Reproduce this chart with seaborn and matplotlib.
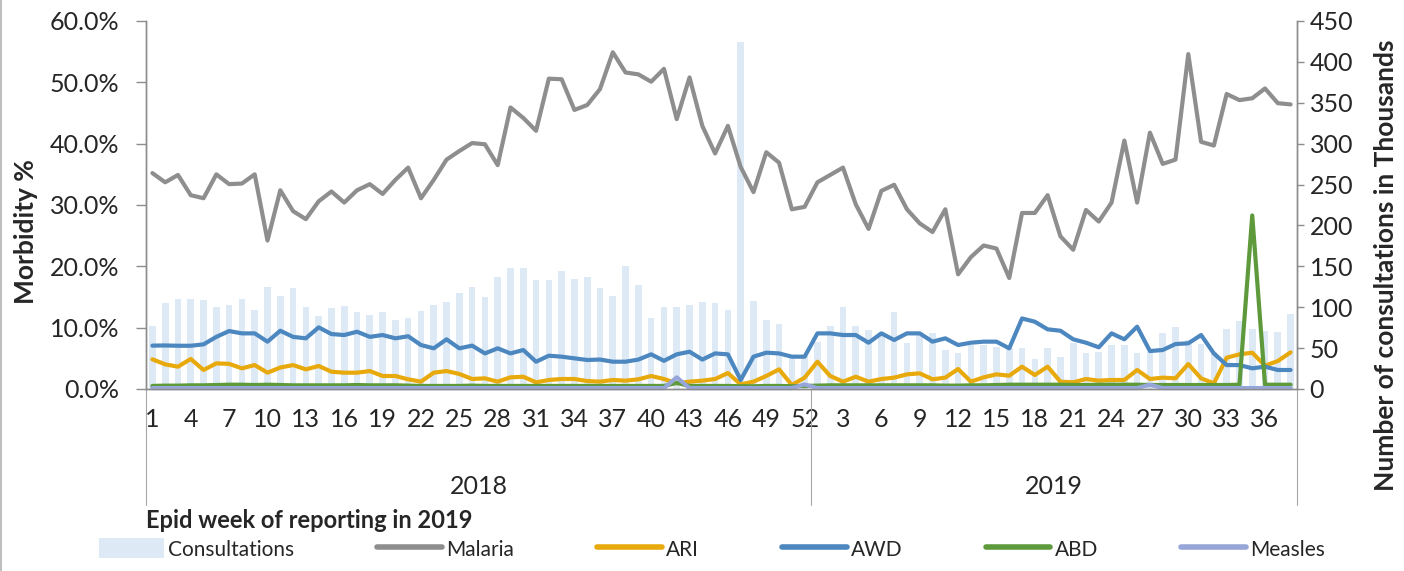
import matplotlib
matplotlib.use("Agg")
import matplotlib.pyplot as plt
from matplotlib.lines import Line2D
from matplotlib.patches import Patch
from matplotlib.ticker import FuncFormatter
import seaborn as sns
import numpy as np

# ======= DATA ========= #
weeks_2018 = list(range(1, 53))
weeks_2019 = list(range(1, 39))
years = ["2018", "2019"]

# consultations in thousands (right axis)
consultations = [
    77, 104.8, 109.7, 109.7, 108.8, 99.9, 102.7, 109.7, 96.6, 125.1,
    114.1, 123.1, 99.9, 89.3, 98.7, 101.9, 93.8, 90.1, 94.5, 84.4,
    87.2, 95.8, 102.7, 106.8, 117, 125.1, 112.1, 137.3, 147.6, 148.3,
    133.3, 133.3, 144.3, 134.5, 137.3, 123.1, 113.7, 150.4, 127.2, 86.4,
    100.6, 99.9, 102.7, 106.8, 105.6, 96.6, 424, 107.6, 84.4, 79.5,
    38, 40,
    57.9, 77, 99.9, 77, 72.1, 70.1, 94.6, 55.8, 68.1, 68.1,
    47.7, 44.4, 53.8, 53.8, 51.8, 49.7, 49.7, 36.3, 49.7, 39.5,
    55.8, 44.4, 45.5, 53.8, 53.8, 43.6, 45, 68.1, 75.4, 60,
    55, 45, 73, 83.5, 73, 71.3, 70, 91.7,
]

# morbidity % (left axis)
malaria = [
    35.2, 33.7, 34.9, 31.6, 31.1, 35.0, 33.4, 33.5, 35.0, 24.2,
    32.4, 29.0, 27.7, 30.6, 32.2, 30.4, 32.4, 33.4, 31.8, 34.1,
    36.1, 31.1, 34.1, 37.4, 38.8, 40.1, 39.9, 36.5, 45.9, 44.2,
    42.1, 50.6, 50.5, 45.5, 46.3, 48.9, 54.9, 51.6, 51.3, 50.1,
    52.2, 44.0, 50.8, 42.9, 38.4, 42.9, 36.2, 32.1, 38.6, 36.9,
    29.3, 29.7,
    33.7, 34.9, 36.1, 30.1, 26.1, 32.3, 33.3, 29.3, 27.0, 25.6,
    29.3, 18.7, 21.5, 23.4, 22.9, 18.1, 28.7, 28.7, 31.6, 24.9,
    22.7, 29.2, 27.3, 30.4, 40.5, 30.4, 41.8, 36.7, 37.4, 54.6,
    40.3, 39.7, 48.1, 47.1, 47.4, 49.0, 46.6, 46.4,
]

ari = [
    4.84, 4.02, 3.64, 4.9, 3.1, 4.18, 4.1, 3.37, 3.9, 2.66,
    3.5, 3.9, 3.2, 3.75, 2.82, 2.66, 2.66, 2.93, 2.12, 2.12,
    1.58, 1.2, 2.66, 2.93, 2.45, 1.63, 1.74, 1.2, 1.9, 2.0,
    1.09, 1.47, 1.63, 1.63, 1.3, 1.2, 1.47, 1.36, 1.58, 2.12,
    1.63, 0.92, 1.2, 1.36, 1.63, 2.6, 0.76, 1.2, 2.12, 3.2,
    0.65, 1.85,
    4.45, 2.12, 1.2, 2.0, 1.2, 1.63, 1.85, 2.39, 2.55, 1.58,
    1.85, 3.26, 1.2, 1.9, 2.39, 2.17, 3.64, 2.28, 3.64, 1.2,
    1.09, 1.63, 1.36, 1.47, 1.47, 3.1, 1.63, 1.85, 1.74, 4.07,
    1.74, 0.92, 5.1, 5.65, 5.92, 3.8, 4.56, 5.98,
]

awd = [
    7.07, 7.1, 7.05, 7.05, 7.28, 8.5, 9.45, 9.07, 9.07, 7.72,
    9.5, 8.5, 8.26, 10.05, 8.96, 8.8, 9.34, 8.5, 8.8, 8.26,
    8.6, 7.17, 6.63, 8.1, 6.63, 7.07, 5.8, 6.63, 5.8, 6.36,
    4.45, 5.43, 5.27, 5.0, 4.73, 4.8, 4.45, 4.45, 4.8, 5.65,
    4.6, 5.65, 6.08, 4.8, 5.8, 5.65, 1.47, 5.27, 5.92, 5.8,
    5.27, 5.27,
    9.07, 9.07, 8.8, 8.8, 7.55, 9.07, 7.99, 9.07, 9.07, 7.72,
    8.26, 7.17, 7.55, 7.72, 7.72, 6.63, 11.5, 10.97, 9.73, 9.5,
    8.1, 7.55, 6.8, 9.07, 8.1, 10.16, 6.19, 6.36, 7.33, 7.45,
    8.8, 5.8, 3.9, 3.9, 3.37, 3.64, 3.1, 3.1,
]

abd = [
    0.5, 0.55, 0.55, 0.6, 0.6, 0.65, 0.7, 0.7, 0.65, 0.7,
    0.65, 0.6, 0.6, 0.6, 0.6, 0.6, 0.65, 0.6, 0.6, 0.6,
    0.55, 0.5, 0.5, 0.5, 0.5, 0.55, 0.5, 0.5, 0.5, 0.5,
    0.5, 0.5, 0.5, 0.5, 0.5, 0.5, 0.5, 0.5, 0.5, 0.5,
    0.5, 1.0, 0.5, 0.5, 0.5, 0.5, 0.45, 0.45, 0.5, 0.5,
    0.45, 0.5,
    0.55, 0.6, 0.6, 0.6, 0.6, 0.6, 0.6, 0.6, 0.6, 0.6,
    0.55, 0.55, 0.6, 0.6, 0.65, 0.7, 0.7, 0.7, 0.7, 0.7,
    0.65, 0.65, 0.7, 0.7, 0.7, 0.7, 0.65, 0.65, 0.65, 0.65,
    0.65, 0.65, 0.65, 0.7, 28.3, 0.7, 0.7, 0.7,
]

measles = [
    0.15, 0.15, 0.15, 0.15, 0.15, 0.15, 0.15, 0.15, 0.15, 0.15,
    0.15, 0.15, 0.15, 0.15, 0.15, 0.15, 0.15, 0.15, 0.15, 0.15,
    0.15, 0.15, 0.15, 0.15, 0.15, 0.15, 0.15, 0.15, 0.15, 0.15,
    0.15, 0.15, 0.15, 0.15, 0.15, 0.15, 0.15, 0.15, 0.15, 0.15,
    0.15, 1.9, 0.15, 0.15, 0.15, 0.15, 0.15, 0.15, 0.15, 0.15,
    0.15, 0.75,
    0.15, 0.15, 0.15, 0.15, 0.15, 0.15, 0.15, 0.15, 0.15, 0.15,
    0.15, 0.15, 0.15, 0.15, 0.15, 0.15, 0.15, 0.15, 0.15, 0.15,
    0.15, 0.15, 0.15, 0.15, 0.15, 0.15, 0.7, 0.15, 0.15, 0.15,
    0.15, 0.15, 0.15, 0.15, 0.15, 0.15, 0.15, 0.15,
]

series = [
    ("Malaria", malaria, "#8E8E8E"),
    ("ARI", ari, "#E8A90C"),
    ("AWD", awd, "#4C87BF"),
    ("ABD", abd, "#5E9A3C"),
    ("Measles", measles, "#97A6D8"),
]
bar_color = "#DDEAF6"
axis_gray = "#8C8C8C"

# ======= FIGURE ========= #
sns.set_style("white")
plt.rcParams["font.family"] = ["Lato", "DejaVu Sans"]

W, H = 1404, 571
fig = plt.figure(figsize=(W / 100, H / 100), dpi=100)
ax = fig.add_axes([146 / W, 1 - 389 / H, (1297 - 146) / W, 368 / H])
ax2 = ax.twinx()

labels = weeks_2018 + weeks_2019
pos = np.arange(len(labels))
n18 = len(weeks_2018)

# bars on the secondary axis
sns.barplot(x=pos, y=consultations, ax=ax2, color=bar_color,
            saturation=1, width=0.52, linewidth=0)

# lines on the primary axis
for name, vals, col in series:
    sns.lineplot(x=pos, y=vals, ax=ax, color=col, linewidth=3.0,
                 legend=False, clip_on=False)

ax.set_zorder(ax2.get_zorder() + 1)
ax.patch.set_visible(False)

# ======= AXES ========= #
ax.set_xlim(-0.5, len(labels) - 0.5)
ax.set_ylim(0, 60)
ax.set_yticks(np.arange(0, 61, 10))
ax.yaxis.set_major_formatter(FuncFormatter(lambda v, p: f"{v:.1f}%"))
ax2.set_ylim(0, 450)
ax2.set_yticks(np.arange(0, 451, 50))
ax.set_ylabel("")
ax2.set_ylabel("")

ax.set_xticks(pos[::3])
ax.set_xticklabels([str(labels[i]) for i in pos[::3]])
ax.set_xticks(np.arange(-0.5, len(labels), 1), minor=True)
ax.tick_params(axis="x", which="major", length=0, pad=14, labelsize=18)
ax.tick_params(axis="x", which="minor", length=42, width=0.8,
               color="#A6A6A6", direction="out")
ax.tick_params(axis="y", length=7, width=1, color=axis_gray, pad=12,
               labelsize=18, left=True)
ax2.tick_params(axis="y", length=5, width=1, color=axis_gray, pad=4,
                labelsize=18, right=True)

for a in (ax, ax2):
    a.spines["top"].set_visible(False)
    for s in ("left", "right", "bottom"):
        a.spines[s].set_color(axis_gray)
        a.spines[s].set_linewidth(1)
ax.grid(False)
ax2.grid(False)

# long separators for year grouping
trans = ax.get_xaxis_transform()
for xb in (-0.5, n18 - 0.5, len(labels) - 0.5):
    ax.add_line(Line2D([xb, xb], [0, -0.315], transform=trans,
                       color="#A6A6A6", lw=0.8, clip_on=False))

ax.text((n18 - 1) / 2, -0.266, years[0], transform=trans, ha="center",
        va="center", fontsize=18)
ax.text(n18 + (len(weeks_2019) - 1) / 2, -0.266, years[1], transform=trans,
        ha="center", va="center", fontsize=18)

# ======= TEXT ========= #
fig.text(146 / W, 1 - 520 / H, "Epid week of reporting in 2019",
         fontsize=17, fontweight="bold", ha="left", va="center")
fig.text(26 / W, 1 - 232 / H, "Morbidity %", rotation=90, fontsize=19,
         fontweight="bold", ha="center", va="center")
fig.text(1386 / W, 1 - 265 / H, "Number of consultations in Thousands",
         rotation=90, fontsize=19, fontweight="bold", ha="center",
         va="center")

# ======= LEGEND ========= #
handles = [Patch(facecolor=bar_color, edgecolor="none", label="Consultations")]
for name, vals, col in series:
    handles.append(Line2D([], [], color=col, lw=4, label=name))
fig.legend(handles=handles, loc="center", ncol=6, frameon=False,
           bbox_to_anchor=(712 / W, 1 - 549 / H), fontsize=15,
           handlelength=3.1, handleheight=1.1, handletextpad=0.2,
           columnspacing=4.0)

# chart border on the left edge
fig.add_artist(Line2D([0.0008, 0.0008], [0, 1], color="#BFBFBF", lw=1.5))

fig.savefig("out.png", dpi=100)
